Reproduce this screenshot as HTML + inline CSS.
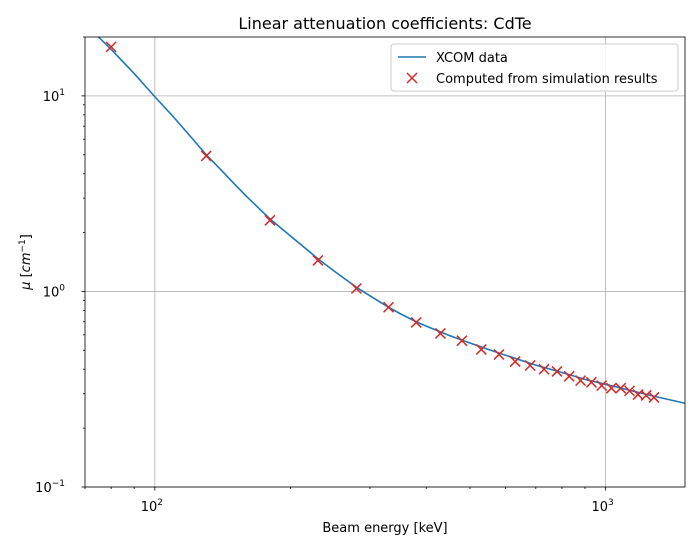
<!DOCTYPE html>
<html><head><meta charset="utf-8"><style>
body{margin:0;background:#fff;font-family:"Liberation Sans","DejaVu Sans",sans-serif;position:relative;width:700px;height:550px;overflow:hidden}
svg text{font-family:"DejaVu Sans","Liberation Sans",sans-serif;}
#chart{position:absolute;left:0;top:0}
</style></head><body>
<svg id="chart" width="700" height="550" xmlns="http://www.w3.org/2000/svg"></svg>
<script>
const lineEnergies=[70,75,80,90,100,110,120,130,140,150,160,180,200,230,250,280,300,330,350,380,400,450,500,550,600,700,800,900,1000,1250,1500];
const lineValues=[23.5,20,17.3,13,9.9,7.8,6.2,5.0,4.2,3.55,3.05,2.35,1.92,1.47,1.27,1.05,0.95,0.83,0.77,0.70,0.665,0.595,0.545,0.505,0.472,0.42,0.385,0.355,0.335,0.295,0.268];
const simEnergies=[80,130,180,230,280,330,380,430,480,530,580,630,680,730,780,830,880,930,980,1030,1080,1130,1180,1230,1280];
const simValues=[17.8,4.93,2.31,1.44,1.035,0.83,0.694,0.61,0.56,0.505,0.476,0.438,0.418,0.40,0.39,0.368,0.35,0.343,0.33,0.32,0.32,0.31,0.297,0.294,0.287];
const xTicks=[100,1000];
const xTickLabels=["10","10"];
const yTicks=[0.1,1,10];
const yTickLabelsExp=["−1","0","1"];

const L=85,R=685,T=37,B=487;
const xMin=70,xMax=1500,yMin=0.1,yMax=20;
const NS="http://www.w3.org/2000/svg";
function xs(v){return L+(Math.log10(v)-Math.log10(xMin))/(Math.log10(xMax)-Math.log10(xMin))*(R-L);}
function ys(v){return B-(Math.log10(v)-Math.log10(yMin))/(Math.log10(yMax)-Math.log10(yMin))*(B-T);}
const svg=document.getElementById('chart');
function mk(tag,attrs,parent){const e=document.createElementNS(NS,tag);for(const k in attrs)e.setAttribute(k,attrs[k]);(parent||svg).appendChild(e);return e;}

const clip=mk('clipPath',{id:'pc'});mk('rect',{x:L,y:T,width:R-L,height:B-T},clip);

xTicks.forEach((t,i)=>{const g=mk('line',{x1:xs(t),x2:xs(t),y1:T,y2:B,stroke:'#b0b0b0','stroke-width':0.8});

});
yTicks.forEach((t,i)=>{const g=mk('line',{x1:L,x2:R,y1:ys(t),y2:ys(t),stroke:'#b0b0b0','stroke-width':0.8});

});

let d='';lineEnergies.forEach((e,i)=>{d+=(i?'L':'M')+xs(e).toFixed(2)+','+ys(lineValues[i]).toFixed(2);});
const ln=mk('path',{d:d,fill:'none',stroke:'#1f77b4','stroke-width':1.6,'stroke-linejoin':'round','clip-path':'url(#pc)'});



simEnergies.forEach((e,i)=>{const cx=xs(e),cy=ys(simValues[i]),s=5;
const m=mk('path',{d:`M${cx-s},${cy-s}L${cx+s},${cy+s}M${cx-s},${cy+s}L${cx+s},${cy-s}`,stroke:'#d62728','stroke-width':1.5,fill:'none'});

});

const fr=mk('rect',{x:L,y:T,width:R-L,height:B-T,fill:'none',stroke:'#000','stroke-width':0.8});



for(let dec=10;dec<=1000;dec*=10){for(let k=1;k<10;k++){const v=dec*k;if(v<xMin||v>xMax)continue;const major=k===1;
const tk=mk('line',{x1:xs(v),x2:xs(v),y1:B,y2:B+(major?3.5:2),stroke:'#000','stroke-width':0.8});

}}
xTicks.forEach((t,i)=>{const tx=mk('text',{x:xs(t)-3,y:B+24,'font-size':13,'text-anchor':'middle'});


tx.textContent=xTickLabels[i];
const sp=mk('tspan',{dy:-6,'font-size':9},tx);sp.textContent=String(i+2);});
for(let dec=0.1;dec<=10;dec*=10){for(let k=1;k<10;k++){const v=dec*k;if(v<yMin||v>yMax)continue;const major=k===1;
const tk=mk('line',{x1:L,x2:L-(major?3.5:2),y1:ys(v),y2:ys(v),stroke:'#000','stroke-width':0.8});

}}
yTicks.forEach((t,i)=>{const tx=mk('text',{x:L-20,y:ys(t)+5,'font-size':13,'text-anchor':'end'});


tx.textContent='10';
const sp=mk('tspan',{dy:-6,'font-size':9},tx);sp.textContent=yTickLabelsExp[i];});
</script>
<svg width="700" height="550" style="position:absolute;left:0;top:0" xmlns="http://www.w3.org/2000/svg">
<text x="385" y="29" font-size="16" text-anchor="middle">Linear attenuation coefficients: CdTe</text>
<text x="385" y="532" font-size="13" text-anchor="middle">Beam energy [keV]</text>
<text transform="translate(30,262) rotate(-90)" font-size="13" text-anchor="middle"><tspan font-style="italic">μ</tspan> [<tspan font-style="italic">cm</tspan><tspan dy="-5" font-size="9">−1</tspan><tspan dy="5">]</tspan></text>
<g>
<rect x="391" y="44" width="287" height="47" rx="3" fill="#fff" fill-opacity="0.85" stroke="#ccc" stroke-width="1"/>
<line x1="398" y1="57" x2="426" y2="57" stroke="#1f77b4" stroke-width="1.6"/>
<text x="436" y="62" font-size="13">XCOM data</text>
<path d="M407,73L417,83M407,83L417,73" stroke="#d62728" stroke-width="1.5"/>
<text x="436" y="83" font-size="13">Computed from simulation results</text>
</g>
</svg>
</body></html>
